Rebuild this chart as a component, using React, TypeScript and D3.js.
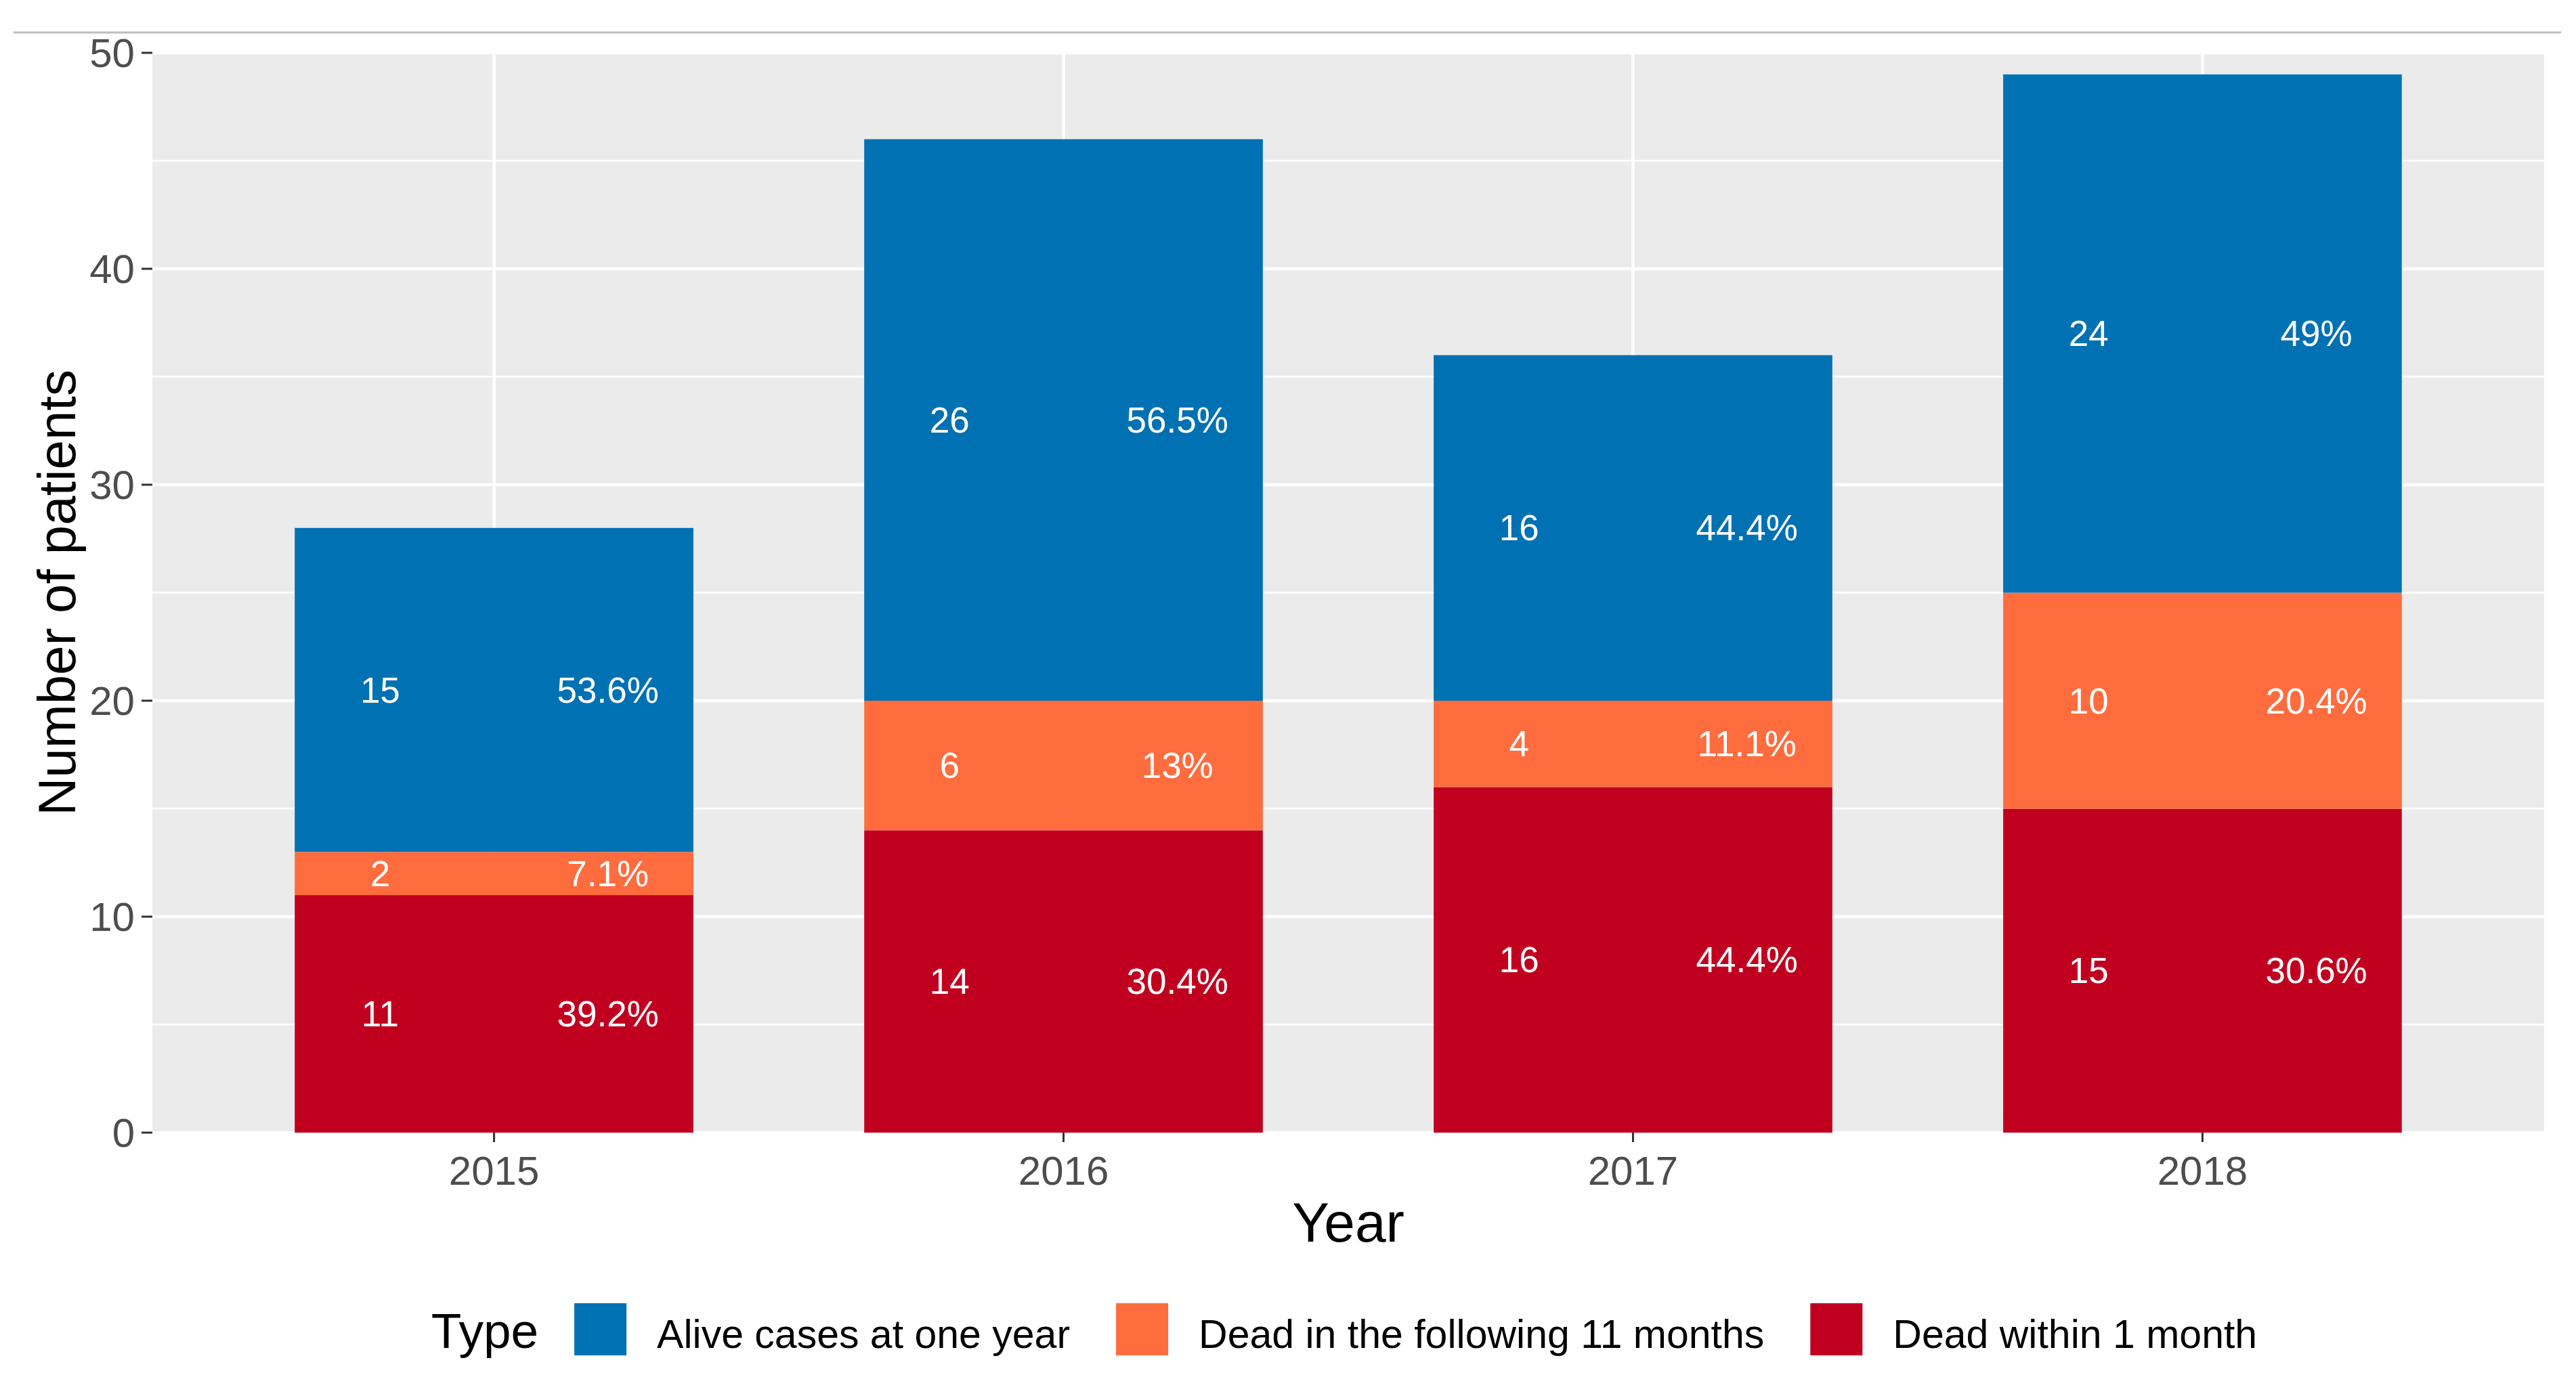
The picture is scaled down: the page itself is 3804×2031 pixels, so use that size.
import * as d3 from "d3";
import React, { useEffect } from "react";

// data
const years = ["2015", "2016", "2017", "2018"];
const deadWithinMonth = [11, 14, 16, 15];
const deadFollowing = [2, 6, 4, 10];
const aliveOneYear = [15, 26, 16, 24];
const pctWithinMonth = ["39.2%", "30.4%", "44.4%", "30.6%"];
const pctFollowing = ["7.1%", "13%", "11.1%", "20.4%"];
const pctAlive = ["53.6%", "56.5%", "44.4%", "49%"];

const seriesKeys = ["month", "following", "alive"];
const seriesNames: Record<string, string> = {
  alive: "Alive cases at one year",
  following: "Dead in the following 11 months",
  month: "Dead within 1 month",
};
const seriesColors: Record<string, string> = {
  alive: "#0071B3",
  following: "#FF6C3E",
  month: "#C10020",
};
const legendOrder = ["alive", "following", "month"];
const yTicks = [0, 10, 20, 30, 40, 50];
const yMinor = [5, 15, 25, 35, 45];

const W = 3804;
const H = 2031;
const FONT = "'Liberation Sans', Arial, Helvetica, sans-serif";

let ctx: CanvasRenderingContext2D | null = null;
const textWidth = (txt: string, size: number) => {
  if (!ctx) ctx = document.createElement("canvas").getContext("2d");
  if (!ctx) return txt.length * size * 0.5;
  ctx.font = `${size}px ${FONT}`;
  return ctx.measureText(txt).width;
};

export default function App() {
  useEffect(() => {
    document.body.style.margin = "0";
    document.body.style.overflow = "hidden";
  }, []);

  const panel = { left: 225, right: 3757, top: 78, bottom: 1673 };

  const x = d3.scalePoint<string>().domain(years).range([panel.left, panel.right]).padding(0.6);
  const step = x.step();
  const barW = step * 0.7;
  const y = d3.scaleLinear().domain([0, 50]).range([panel.bottom, panel.top]);

  const rows = years.map((yr, i) => ({
    year: yr,
    month: deadWithinMonth[i],
    following: deadFollowing[i],
    alive: aliveOneYear[i],
  }));
  const pcts: Record<string, string[]> = { month: pctWithinMonth, following: pctFollowing, alive: pctAlive };
  const stacked = d3.stack<any>().keys(seriesKeys)(rows);

  // legend layout
  const titleSize = 73;
  const labSize = 59;
  const keySize = 77;
  let cursor = 0;
  const titleW = textWidth("Type", titleSize);
  cursor += titleW + 53;
  const items = legendOrder.map((k) => {
    const kx = cursor;
    const lw = textWidth(seriesNames[k], labSize);
    cursor += keySize + 45 + lw + 68;
    return { k, kx, lx: kx + keySize + 45 };
  });
  const legendW = cursor - 68;
  const lx0 = 1985 - legendW / 2;
  const legendBase = 1991;

  return (
    <svg width={W} height={H} style={{ display: "block", background: "#fff" }} fontFamily={FONT}>
      <line x1={20} x2={3782} y1={48} y2={48} stroke="#BEBEBE" strokeWidth={3} />
      <rect x={panel.left} y={panel.top} width={panel.right - panel.left} height={panel.bottom - panel.top} fill="#EBEBEB" />
      {yMinor.map((t) => (
        <line key={"mn" + t} x1={panel.left} x2={panel.right} y1={y(t)} y2={y(t)} stroke="#fff" strokeWidth={2.5} />
      ))}
      {yTicks.map((t) => (
        <line key={"mj" + t} x1={panel.left} x2={panel.right} y1={y(t)} y2={y(t)} stroke="#fff" strokeWidth={4.5} />
      ))}
      {years.map((yr) => (
        <line key={"vg" + yr} x1={x(yr)} x2={x(yr)} y1={panel.top} y2={panel.bottom} stroke="#fff" strokeWidth={4.5} />
      ))}

      {stacked.map((s) =>
        s.map((d, i) => (
          <rect
            key={s.key + i}
            x={(x(years[i]) as number) - barW / 2}
            y={y(d[1])}
            width={barW}
            height={y(d[0]) - y(d[1])}
            fill={seriesColors[s.key]}
          />
        ))
      )}

      {stacked.map((s) =>
        s.map((d, i) => {
          const cy = y((d[0] + d[1]) / 2);
          const cx = x(years[i]) as number;
          return (
            <g key={"lab" + s.key + i} fill="#FFFFFF" fontSize={53} textAnchor="middle" dominantBaseline="central">
              <text x={cx - step * 0.2} y={cy}>{d[1] - d[0]}</text>
              <text x={cx + step * 0.2} y={cy}>{pcts[s.key][i]}</text>
            </g>
          );
        })
      )}

      {/* y axis */}
      {yTicks.map((t) => (
        <g key={"yt" + t}>
          <line x1={209} x2={panel.left} y1={y(t)} y2={y(t)} stroke="#333" strokeWidth={3} />
          <text x={199} y={y(t)} textAnchor="end" dominantBaseline="central" fontSize={60} fill="#4D4D4D">
            {t}
          </text>
        </g>
      ))}
      <text transform={`translate(111,${(panel.top + panel.bottom) / 2}) rotate(-90)`} textAnchor="middle" fontSize={78} fill="#000">
        Number of patients
      </text>

      {/* x axis */}
      {years.map((yr) => (
        <g key={"xt" + yr}>
          <line x1={x(yr)} x2={x(yr)} y1={panel.bottom} y2={panel.bottom + 14} stroke="#333" strokeWidth={3} />
          <text x={x(yr)} y={1750} textAnchor="middle" fontSize={60} fill="#4D4D4D">
            {yr}
          </text>
        </g>
      ))}
      <text x={(panel.left + panel.right) / 2} y={1834} textAnchor="middle" fontSize={82} fill="#000">
        Year
      </text>

      {/* legend */}
      <text x={lx0} y={legendBase} fontSize={titleSize} fill="#000">
        Type
      </text>
      {items.map((it) => (
        <g key={"lg" + it.k}>
          <rect x={lx0 + it.kx} y={1925} width={keySize} height={keySize} fill={seriesColors[it.k]} />
          <text x={lx0 + it.lx} y={legendBase} fontSize={labSize} fill="#000">
            {seriesNames[it.k]}
          </text>
        </g>
      ))}
    </svg>
  );
}
